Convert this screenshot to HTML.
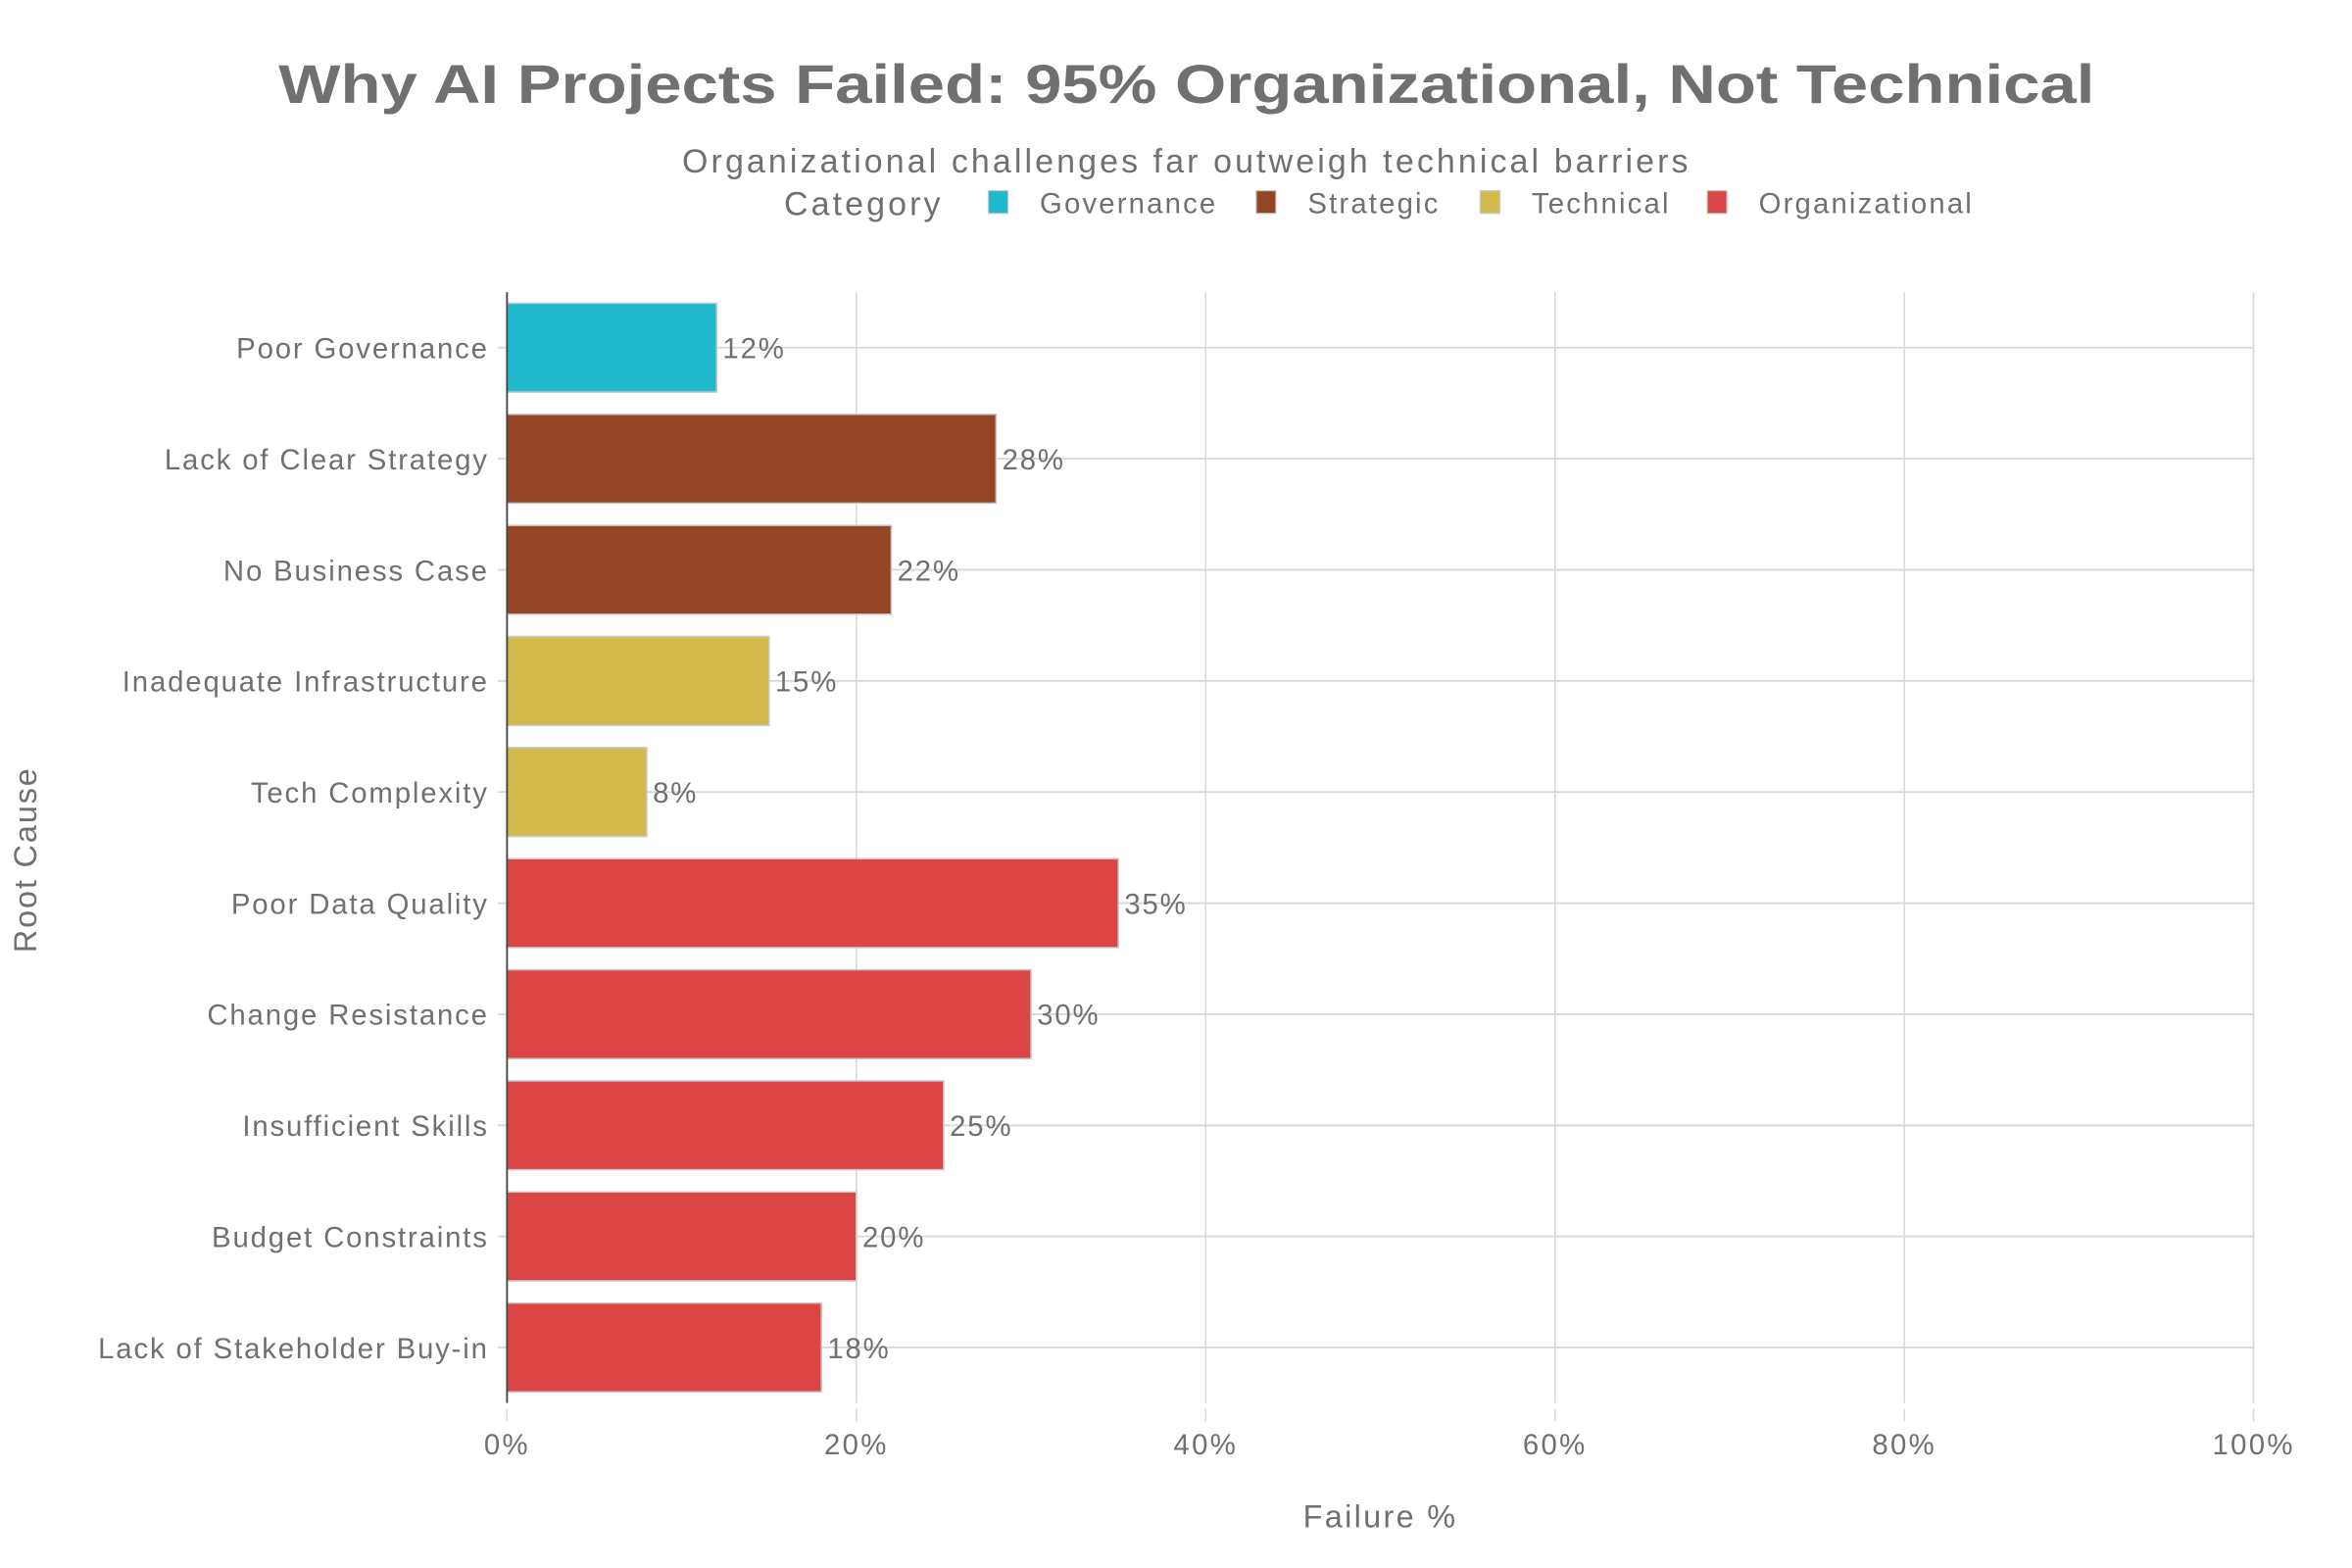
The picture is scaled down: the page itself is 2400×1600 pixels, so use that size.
<!DOCTYPE html>
<html><head><meta charset="utf-8"><style>
html,body{margin:0;padding:0;background:#fff}
svg{display:block}
text{font-family:"Liberation Sans",Arial,sans-serif;fill:#707070}
</style></head><body>
<svg id="chart" width="2400" height="1600" viewBox="0 0 1554 1036" xmlns="http://www.w3.org/2000/svg">
<text x="784" y="68" text-anchor="middle" font-size="36" font-weight="bold" textLength="1200" lengthAdjust="spacingAndGlyphs">Why AI Projects Failed: 95% Organizational, Not Technical</text>
<text x="784" y="114" text-anchor="middle" font-size="22" letter-spacing="2">Organizational challenges far outweigh technical barriers</text>
<g id="legend"></g>
<g id="grid"></g>
<g id="bars"></g>
<g id="axes"></g>
<text x="912" y="1009" text-anchor="middle" font-size="21" letter-spacing="1.5">Failure %</text>
<text x="0" y="0" transform="translate(24,568) rotate(-90)" text-anchor="middle" font-size="21" letter-spacing="1.2">Root Cause</text>
</svg>
<script>
const categories = ["Poor Governance","Lack of Clear Strategy","No Business Case","Inadequate Infrastructure","Tech Complexity","Poor Data Quality","Change Resistance","Insufficient Skills","Budget Constraints","Lack of Stakeholder Buy-in"];
const values = [12,28,22,15,8,35,30,25,20,18];
const groups = ["Governance","Strategic","Strategic","Technical","Technical","Organizational","Organizational","Organizational","Organizational","Organizational"];
const legendNames = ["Governance","Strategic","Technical","Organizational"];
const xTicks = [0,20,40,60,80,100];

const colors = {Governance:"#1fb8cd",Strategic:"#944524",Technical:"#d2ba4c",Organizational:"#db4545"};
const NS = "http://www.w3.org/2000/svg";
const X0 = 335, X1 = 1489, YT = 193, YB = 927;
const xs = v => X0 + (X1 - X0) * v / 100;
const step = (YB - YT) / categories.length;
const yc = i => YT + step * (i + 0.5);
function mk(tag, attrs, parent){const e=document.createElementNS(NS,tag);for(const k in attrs)e.setAttribute(k,attrs[k]);parent.appendChild(e);return e;}

const grid = document.getElementById('grid');
xTicks.forEach(t=>{
  if(t>0){const l=mk('line',{x1:xs(t),x2:xs(t),y1:YT,y2:YB,stroke:'#d8d8d8','stroke-width':1},grid);
  
  }
  const tk=mk('line',{x1:xs(t),x2:xs(t),y1:YB+4,y2:YB+12,stroke:'#d8d8d8','stroke-width':1},grid);
  
  
  const tx=mk('text',{x:xs(t),y:961,'text-anchor':'middle','font-size':19,'letter-spacing':1.5},grid);
  tx.textContent=t+'%';
  
  
});
categories.forEach((c,i)=>{
  const l=mk('line',{x1:X0-6,x2:X1,y1:yc(i),y2:yc(i),stroke:'#d8d8d8','stroke-width':1.2},grid);
  
  
  const tx=mk('text',{x:323,y:yc(i)+7,'text-anchor':'end','font-size':19,'letter-spacing':1.2},grid);
  tx.textContent=c;
  
  
});
const bars=document.getElementById('bars');
const bh = step*0.8;
values.forEach((v,i)=>{
  const r=mk('rect',{x:X0,y:yc(i)-bh/2,width:xs(v)-X0,height:bh,fill:colors[groups[i]],stroke:'#c8c8c8','stroke-width':1},bars);
  
  
  const t=mk('text',{x:xs(v)+4,y:yc(i)+7,'font-size':19,'letter-spacing':1.2},bars);
  t.textContent=v+'%';
  
  
});
const axes=document.getElementById('axes');
const ax=mk('line',{x1:X0,x2:X0,y1:YT,y2:YB,stroke:'#444','stroke-width':1.2},axes);



const lg=document.getElementById('legend');
const lt=mk('text',{x:518,y:142,'font-size':22,'letter-spacing':2},lg);
lt.textContent='Category';


const lx=[653,830,978,1128];
legendNames.forEach((n,i)=>{
  const g=mk('g',{},lg);
  
  
  mk('rect',{x:lx[i],y:126,width:13,height:15,fill:colors[n],stroke:'#c8c8c8','stroke-width':0.8},g);
  const t=mk('text',{x:lx[i]+34,y:141,'font-size':19,'letter-spacing':1.4},g);
  t.textContent=n;
});
</script>
</body></html>
